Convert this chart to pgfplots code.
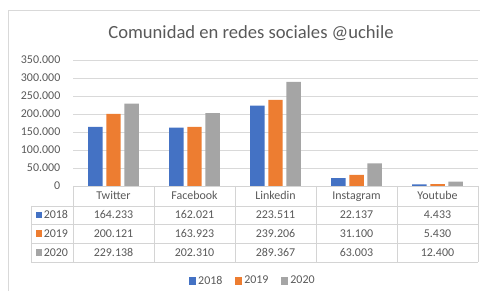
\documentclass[border=0pt]{standalone}
\usepackage{pgfplots}
\pgfplotsset{compat=1.18}
\usepackage{fontspec}
\setmainfont{Carlito}
\definecolor{c18}{HTML}{4472C4}
\definecolor{c19}{HTML}{ED7D31}
\definecolor{c20}{HTML}{A5A5A5}
\definecolor{txt}{HTML}{595959}
\definecolor{grd}{HTML}{D9D9D9}
\definecolor{tbl}{HTML}{D4D4D4}
\begin{document}
\begin{tikzpicture}[x=0.75bp,y=0.75bp]
\useasboundingbox (0,0) rectangle (480,293);
% chart border
\draw[grd, line width=0.6bp] (8,{293-291}) -- (8,{293-10}) -- (480,{293-10});
% title
\node[text=txt, font=\fontsize{14}{16}\selectfont] at (251,{293-33}) {Comunidad en redes sociales @uchile};
\begin{axis}[
  at={(54.75bp,80.25bp)}, anchor=south west, scale only axis,
  width=303.75bp, height=94.5bp,
  xmin=-0.5, xmax=4.5, ymin=0, ymax=350000,
  ytick={0,50000,100000,150000,200000,250000,300000,350000},
  yticklabels={0,50.000,100.000,150.000,200.000,250.000,300.000,350.000},
  xtick=\empty,
  ymajorgrids, grid style={grd, line width=0.6bp},
  axis line style={draw=none}, major tick length=0pt,
  scaled y ticks=false,
  yticklabel style={text=txt, font=\fontsize{9}{10}\selectfont, xshift=-6bp},
  ybar=2.8bp, bar width=0.179,
  clip=false,
  legend style={at={(0.444,-0.754)}, anchor=center, draw=none, fill=none,
    legend columns=3, font=\fontsize{9}{10}\selectfont, text=txt,
    /tikz/every even column/.append style={column sep=8bp},
    nodes={inner sep=1.5bp}},
  legend image code/.code={\fill[#1] (0bp,-2.7bp) rectangle (5.4bp,2.7bp);},
]
\addplot[fill=c18, draw=none] coordinates {(0,164233) (1,162021) (2,223511) (3,22137) (4,4433)};
\addplot[fill=c19, draw=none] coordinates {(0,200121) (1,163923) (2,239206) (3,31100) (4,5430)};
\addplot[fill=c20, draw=none] coordinates {(0,229138) (1,202310) (2,289367) (3,63003) (4,12400)};
\legend{2018,2019,2020}
\end{axis}
% data table
\begin{scope}[tbl, line width=0.7bp]
\draw (73,{293-186}) -- (478,{293-186});
\foreach \yy in {206,224,243,262} {\draw (31,{293-\yy}) -- (478,{293-\yy});}
\draw (31,{293-206}) -- (31,{293-262});
\foreach \xx in {73,154,235,316,397,478} {\draw (\xx,{293-186}) -- (\xx,{293-262});}
\end{scope}
\begin{scope}[every node/.style={text=txt, font=\fontsize{9}{10}\selectfont, text height=1.6ex, text depth=0.4ex}]
\foreach \lab [count=\i from 0] in {Twitter,Facebook,Linkedin,Instagram,Youtube}
  {\node at ({113.5+81*\i},{293-196}) {\lab};}
\foreach \lab [count=\i from 0] in {164.233,162.021,223.511,22.137,4.433}
  {\node at ({113.5+81*\i},{293-215}) {\lab};}
\foreach \lab [count=\i from 0] in {200.121,163.923,239.206,31.100,5.430}
  {\node at ({113.5+81*\i},{293-233.5}) {\lab};}
\foreach \lab [count=\i from 0] in {229.138,202.310,289.367,63.003,12.400}
  {\node at ({113.5+81*\i},{293-252.5}) {\lab};}
\fill[c18] (35.5,{293-218.5}) rectangle (42,{293-212});
\fill[c19] (35.5,{293-237}) rectangle (42,{293-230.5});
\fill[c20] (35.5,{293-256}) rectangle (42,{293-249.5});
\node[anchor=west, inner sep=0] at (43.5,{293-215}) {2018};
\node[anchor=west, inner sep=0] at (43.5,{293-233.5}) {2019};
\node[anchor=west, inner sep=0] at (43.5,{293-252.5}) {2020};
\end{scope}
\end{tikzpicture}
\end{document}
